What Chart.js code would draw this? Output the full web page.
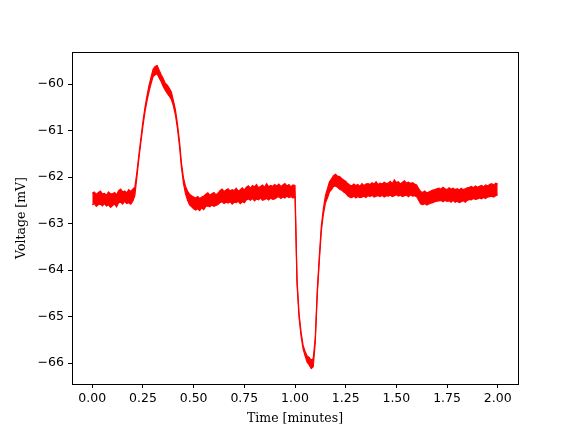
<!DOCTYPE html>
<html>
<head>
<meta charset="utf-8">
<script src="https://cdn.jsdelivr.net/npm/chart.js@4.4.1/dist/chart.umd.min.js"></script>
<style>
  html, body { margin: 0; padding: 0; background: #fff; }
  canvas { display: block; }
</style>
</head>
<body>
<canvas id="chart" width="576" height="432"></canvas>
<script>
const sampleStep = 0.01;
const voltageHigh = [
  -62.35, -62.32, -62.37, -62.33, -62.30, -62.36, -62.35, -62.39, -62.32, -62.36,
  -62.36, -62.33, -62.38, -62.29, -62.26, -62.32, -62.30, -62.34, -62.27, -62.31,
  -62.26, -62.22, -61.90, -61.52, -61.16, -60.80, -60.50, -60.25, -60.03, -59.85,
  -59.68, -59.62, -59.60, -59.70, -59.80, -59.88, -59.98, -60.02, -60.09, -60.17,
  -60.35, -60.55, -60.85, -61.22, -61.70, -62.02, -62.20, -62.30, -62.37, -62.40,
  -62.43, -62.45, -62.42, -62.46, -62.43, -62.41, -62.37, -62.34, -62.39, -62.36,
  -62.33, -62.38, -62.35, -62.29, -62.26, -62.31, -62.28, -62.25, -62.30, -62.27,
  -62.29, -62.24, -62.30, -62.27, -62.23, -62.28, -62.22, -62.19, -62.24, -62.18,
  -62.21, -62.16, -62.23, -62.20, -62.17, -62.22, -62.14, -62.21, -62.18, -62.20,
  -62.16, -62.19, -62.15, -62.20, -62.17, -62.14, -62.19, -62.16, -62.21, -62.17,
  -62.18, -64.20, -64.94, -65.34, -65.62, -65.75, -65.85, -65.88, -65.94, -65.90,
  -65.45, -64.42, -63.70, -63.05, -62.68, -62.40, -62.25, -62.10, -62.04, -61.97,
  -61.94, -61.98, -61.99, -62.03, -62.06, -62.09, -62.14, -62.17, -62.19, -62.15,
  -62.18, -62.16, -62.20, -62.14, -62.18, -62.15, -62.14, -62.16, -62.12, -62.15,
  -62.10, -62.16, -62.13, -62.15, -62.11, -62.14, -62.13, -62.09, -62.14, -62.06,
  -62.12, -62.10, -62.15, -62.11, -62.08, -62.13, -62.11, -62.14, -62.12, -62.15,
  -62.17, -62.25, -62.31, -62.33, -62.30, -62.34, -62.32, -62.30, -62.28, -62.27,
  -62.25, -62.24, -62.26, -62.22, -62.25, -62.27, -62.23, -62.26, -62.24, -62.27,
  -62.25, -62.28, -62.24, -62.27, -62.25, -62.23, -62.22, -62.20, -62.23, -62.19,
  -62.22, -62.20, -62.18, -62.21, -62.17, -62.19, -62.16, -62.14, -62.17, -62.13,
  -62.15
];
const voltageLow = [
  -62.60, -62.57, -62.63, -62.59, -62.58, -62.62, -62.57, -62.62, -62.60, -62.65,
  -62.61, -62.58, -62.64, -62.55, -62.54, -62.58, -62.52, -62.57, -62.55, -62.58,
  -62.52, -62.40, -62.00, -61.60, -61.24, -60.90, -60.60, -60.36, -60.16, -59.99,
  -59.84, -59.80, -59.78, -59.87, -59.95, -60.05, -60.13, -60.20, -60.26, -60.33,
  -60.47, -60.66, -60.95, -61.32, -61.80, -62.14, -62.36, -62.50, -62.60, -62.64,
  -62.68, -62.71, -62.68, -62.72, -62.66, -62.70, -62.63, -62.62, -62.64, -62.60,
  -62.63, -62.61, -62.59, -62.55, -62.53, -62.57, -62.54, -62.56, -62.53, -62.58,
  -62.54, -62.55, -62.52, -62.57, -62.53, -62.55, -62.49, -62.47, -62.50, -62.46,
  -62.51, -62.47, -62.49, -62.45, -62.50, -62.48, -62.46, -62.49, -62.45, -62.48,
  -62.47, -62.44, -62.42, -62.46, -62.43, -62.45, -62.41, -62.44, -62.42, -62.45,
  -62.43, -64.30, -65.02, -65.42, -65.70, -65.85, -65.98, -66.04, -66.12, -66.08,
  -65.55, -64.52, -63.80, -63.15, -62.80, -62.56, -62.45, -62.32, -62.27, -62.20,
  -62.19, -62.22, -62.26, -62.28, -62.32, -62.35, -62.40, -62.43, -62.44, -62.41,
  -62.45, -62.42, -62.44, -62.43, -62.41, -62.44, -62.40, -62.42, -62.39, -62.43,
  -62.41, -62.40, -62.42, -62.39, -62.43, -62.40, -62.41, -62.39, -62.42, -62.40,
  -62.38, -62.41, -62.39, -62.42, -62.40, -62.39, -62.42, -62.38, -62.41, -62.40,
  -62.42, -62.50, -62.58, -62.59, -62.57, -62.60, -62.58, -62.56, -62.55, -62.53,
  -62.52, -62.51, -62.50, -62.53, -62.50, -62.52, -62.51, -62.54, -62.50, -62.54,
  -62.52, -62.55, -62.53, -62.51, -62.54, -62.50, -62.48, -62.49, -62.46, -62.48,
  -62.47, -62.45, -62.47, -62.44, -62.46, -62.43, -62.42, -62.41, -62.43, -62.40,
  -62.38
];
const xTicks = [0, 0.25, 0.5, 0.75, 1.0, 1.25, 1.5, 1.75, 2.0];
const yTicks = [-66, -65, -64, -63, -62, -61, -60];

const times = voltageHigh.map((_, i) => +(i * sampleStep).toFixed(2));
const highPts = voltageHigh.map((v, i) => ({ x: times[i], y: v }));
const lowPts = voltageLow.map((v, i) => ({ x: times[i], y: v }));

const frame = {
  id: 'frame',
  afterDraw(chart) {
    const { ctx, chartArea: a } = chart;
    ctx.save();
    ctx.strokeStyle = '#000';
    ctx.lineWidth = 1;
    ctx.strokeRect(Math.round(a.left) + 0.5, Math.round(a.top) + 0.5,
                   Math.round(a.right - a.left), Math.round(a.bottom - a.top));
    ctx.restore();
  }
};

const sans = 'DejaVu Sans';
const serif = 'DejaVu Serif';

new Chart(document.getElementById('chart'), {
  type: 'line',
  data: {
    datasets: [{
      data: highPts,
      borderColor: '#ff0000',
      backgroundColor: '#ff0000',
      borderWidth: 1.2,
      pointRadius: 0,
      tension: 0,
      fill: '+1'
    }, {
      data: lowPts,
      borderColor: '#ff0000',
      borderWidth: 1.2,
      pointRadius: 0,
      tension: 0,
      fill: false
    }]
  },
  options: {
    responsive: false,
    devicePixelRatio: 1,
    animation: false,
    layout: { padding: { left: 0, right: 58, top: 52, bottom: 0 } },
    plugins: { legend: { display: false }, tooltip: { enabled: false } },
    scales: {
      x: {
        type: 'linear',
        min: -0.1,
        max: 2.1,
        afterBuildTicks: s => { s.ticks = xTicks.map(v => ({ value: v })); },
        afterFit: s => { s.height = 48; },
        grid: { drawOnChartArea: false, drawTicks: true, tickLength: 4, color: '#000' },
        border: { display: false },
        ticks: {
          color: '#000',
          padding: 3,
          maxRotation: 0,
          font: { family: sans, size: 12.5 },
          callback: v => v.toFixed(2)
        },
        title: {
          display: true,
          text: 'Time [minutes]',
          color: '#000',
          font: { family: serif, size: 12.5 },
          padding: { top: 0, bottom: 6 }
        }
      },
      y: {
        type: 'linear',
        min: -66.45,
        max: -59.31,
        afterBuildTicks: s => { s.ticks = yTicks.map(v => ({ value: v })); },
        afterFit: s => { s.width = 72; },
        grid: { drawOnChartArea: false, drawTicks: true, tickLength: 4, color: '#000' },
        border: { display: false },
        ticks: {
          color: '#000',
          padding: 4,
          font: { family: sans, size: 12.5 },
          callback: v => String(v).replace('-', '\u2212')
        },
        title: {
          display: true,
          text: 'Voltage [mV]',
          color: '#000',
          font: { family: serif, size: 12.5 },
          padding: { top: 14, bottom: 0 }
        }
      }
    }
  },
  plugins: [frame]
});
</script>
</body>
</html>
